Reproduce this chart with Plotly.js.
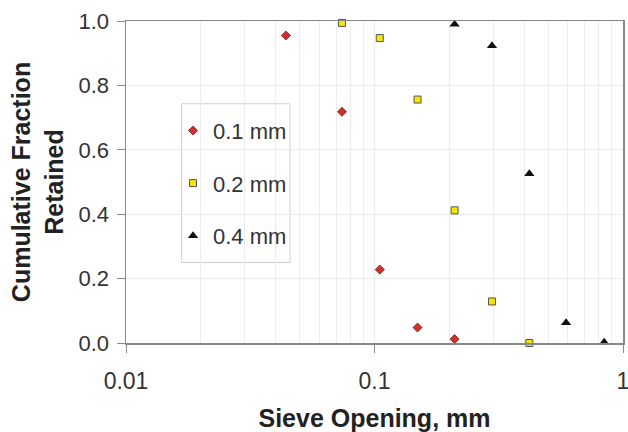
<!DOCTYPE html>
<html>
<head>
<meta charset="utf-8">
<script src="https://cdn.plot.ly/plotly-3.0.1.min.js"></script>
<style>html,body{margin:0;padding:0;background:#fff;}#chart{width:628px;height:432px;}</style>
</head>
<body>
<div id="chart"></div>
<script>
// Sieve openings (mm)
const sieve01 = [0.044, 0.074, 0.105, 0.149, 0.21];
const frac01  = [0.955, 0.718, 0.228, 0.048, 0.012];

const sieve02 = [0.074, 0.105, 0.149, 0.21, 0.297, 0.42];
const frac02  = [0.994, 0.947, 0.756, 0.412, 0.129, 0.0];

const sieve04 = [0.21, 0.297, 0.42, 0.59, 0.84];
const frac04  = [0.99, 0.923, 0.526, 0.063, 0.002];

const seriesNames = ["0.1 mm", "0.2 mm", "0.4 mm"];
const xTickVals = [0.01, 0.1, 1];
const xTickText = ["0.01", "0.1", "1"];
const yTickVals = [0, 0.2, 0.4, 0.6, 0.8, 1.0];
const yTickText = ["0.0", "0.2", "0.4", "0.6", "0.8", "1.0"];

const traces = [
  {x: sieve01, y: frac01, name: seriesNames[0], legendgroup: "a",
   marker: {symbol: "diamond", size: 7, color: "#d0302c", line: {color: "#7a1a18", width: 0.8}}},
  {x: sieve02, y: frac02, name: seriesNames[1], legendgroup: "b",
   marker: {symbol: "square", size: 7, color: "#f5e600", line: {color: "#555555", width: 1}}},
  {x: sieve04, y: frac04, name: seriesNames[2], legendgroup: "c",
   marker: {symbol: "triangle-up", size: 9, color: "#111111", line: {color: "#111111", width: 0}}}
].map(t => Object.assign({type: "scatter", mode: "markers", cliponaxis: false}, t));

const FONT = "Liberation Sans, Arial, sans-serif";

const layout = {
  width: 628, height: 432,
  margin: {l: 126, r: 5, t: 21, b: 89},
  paper_bgcolor: "#ffffff", plot_bgcolor: "#ffffff",
  font: {family: FONT, color: "#333333"},
  showlegend: true,
  legend: {
    x: 0.0946, y: 0.7245, xanchor: "left", yanchor: "top",
    borderwidth: 0, bgcolor: "rgba(0,0,0,0)",
    font: {size: 22, color: "#333333"},
    traceorder: "grouped", tracegroupgap: 21,
    itemwidth: 30
  },
  shapes: [{
    type: "rect", xref: "paper", yref: "paper",
    x0: 0.112, x1: 0.330, y0: 0.250, y1: 0.743,
    line: {color: "#cfcfcf", width: 1}, fillcolor: "#ffffff", layer: "between"
  }],
  xaxis: {
    type: "log", range: [-2, 0],
    tickvals: xTickVals, ticktext: xTickText,
    ticks: "outside", ticklen: 8, tickcolor: "#888888",
    tickfont: {size: 23, color: "#333333"},
    ticklabelstandoff: 9, ticklabeloverflow: "allow",
    showline: true, linecolor: "#888888", linewidth: 1.5, mirror: true,
    showgrid: true, gridcolor: "#ececec", gridwidth: 1,
    minor: {dtick: "D1", showgrid: true, gridcolor: "#ececec", gridwidth: 1, ticks: ""},
    zeroline: false,
    title: {text: "<b>Sieve Opening, mm</b>", font: {size: 25, color: "#222222", family: FONT}, standoff: 16}
  },
  yaxis: {
    range: [0, 1],
    tickvals: yTickVals, ticktext: yTickText,
    ticks: "outside", ticklen: 8, tickcolor: "#888888",
    tickfont: {size: 22, color: "#333333"},
    ticklabelstandoff: 3,
    showline: true, linecolor: "#888888", linewidth: 1.5, mirror: true,
    showgrid: true, gridcolor: "#ececec", gridwidth: 1,
    zeroline: false,
    title: {text: "<b>Cumulative Fraction</b><br><b>Retained</b>", font: {size: 25, color: "#222222", family: FONT}, standoff: 8}
  }
};

Plotly.newPlot("chart", traces, layout, {staticPlot: true, displayModeBar: false});
</script>
</body>
</html>
